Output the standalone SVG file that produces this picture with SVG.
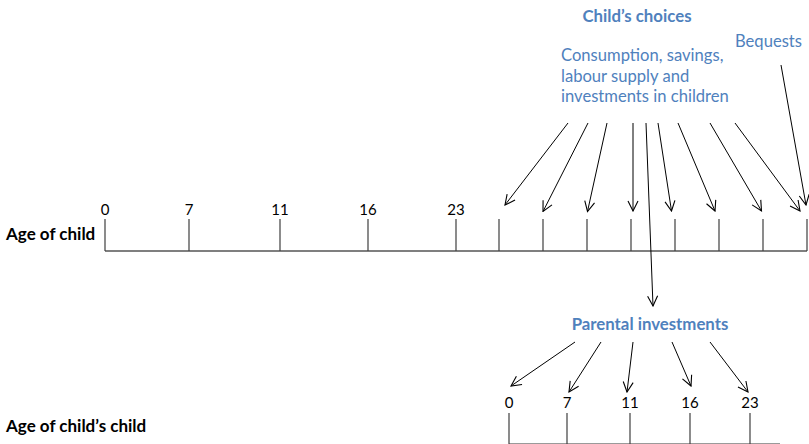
<svg xmlns="http://www.w3.org/2000/svg" width="809" height="444" viewBox="0 0 809 444">
  <style>
    .lbl { font-family: Lato, "Open Sans", sans-serif; font-size: 15px; fill: #000; text-anchor: middle; }
    .axis-title { font-family: Lato, "Open Sans", sans-serif; font-size: 17px; font-weight: bold; fill: #000; }
    .head { font-family: Lato, "Open Sans", sans-serif; font-size: 16.8px; font-weight: bold; fill: #4F81BD; text-anchor: middle; }
    .note { font-family: Lato, "Open Sans", sans-serif; font-size: 16.6px; fill: #4F81BD; }
    .axis { stroke: #000; stroke-width: 1.2; fill: none; }
    .tick { stroke: #404040; stroke-width: 1.2; fill: none; }
    .arrow { stroke: #000; stroke-width: 1; fill: none; marker-end: url(#open); }
  </style>
  <defs>
    <marker id="open" viewBox="0 0 12 12" refX="11" refY="6" markerWidth="12" markerHeight="12" markerUnits="userSpaceOnUse" orient="auto">
      <polyline points="1,1 11,6 1,11" fill="none" stroke="#000" stroke-width="1.1"/>
    </marker>
  </defs>

  <!-- Child's timeline -->
  <g id="timeline-child">
    <text class="axis-title" x="6" y="240">Age of child</text>
    <line class="axis" x1="105" y1="251" x2="807" y2="251"/>
    <path class="tick" d="M105 219V251 M189 219V251 M280 219V251 M368 219V251 M456 219V251 M499 219V251 M543 219V251 M587 219V251 M631 219V251 M675 219V251 M719 219V251 M763 219V251 M807 219V251"/>
    <text class="lbl" x="105" y="215">0</text>
    <text class="lbl" x="189" y="215">7</text>
    <text class="lbl" x="280" y="215">11</text>
    <text class="lbl" x="368" y="215">16</text>
    <text class="lbl" x="456" y="215">23</text>
  </g>

  <!-- Grandchild's timeline -->
  <g id="timeline-grandchild">
    <text class="axis-title" x="6" y="432">Age of child’s child</text>
    <line x1="509" y1="443.5" x2="780" y2="443.5" stroke="#9a9a9a" stroke-width="1.2"/>
    <path class="tick" d="M509 413V444 M567 413V444 M630 413V444 M690 413V444 M750 413V444"/>
    <text class="lbl" x="509" y="408">0</text>
    <text class="lbl" x="567" y="408">7</text>
    <text class="lbl" x="630" y="408">11</text>
    <text class="lbl" x="690" y="408">16</text>
    <text class="lbl" x="750" y="408">23</text>
  </g>

  <!-- Labels -->
  <g id="childs-choices">
    <text class="head" x="637" y="22">Child’s choices</text>
  </g>
  <g id="consumption">
    <text class="note" x="561" y="61">Consumption, savings,</text>
    <text class="note" x="561" y="81.5">labour supply and</text>
    <text class="note" x="561" y="102">investments in children</text>
  </g>
  <g id="bequests">
    <text class="note" x="735" y="47">Bequests</text>
  </g>
  <g id="parental-investments">
    <text class="head" x="650" y="330">Parental investments</text>
  </g>

  <!-- Connectors -->
  <g id="connectors">
    <line class="arrow" x1="568" y1="123" x2="505" y2="205"/>
    <line class="arrow" x1="588" y1="123" x2="543" y2="211.5"/>
    <line class="arrow" x1="607" y1="123" x2="587.5" y2="211.5"/>
    <line class="arrow" x1="633" y1="123" x2="633" y2="211"/>
    <line class="arrow" x1="658" y1="123" x2="671.5" y2="211"/>
    <line class="arrow" x1="678" y1="123" x2="715" y2="211"/>
    <line class="arrow" x1="710" y1="123" x2="761.5" y2="211"/>
    <line class="arrow" x1="735" y1="123" x2="800" y2="211"/>
    <line class="arrow" x1="781" y1="65" x2="806" y2="205"/>
    <line class="arrow" x1="646" y1="123" x2="653" y2="306"/>
    <line class="arrow" x1="575" y1="342" x2="511" y2="386"/>
    <line class="arrow" x1="601" y1="342" x2="569" y2="392"/>
    <line class="arrow" x1="633" y1="342" x2="627" y2="392"/>
    <line class="arrow" x1="672" y1="342" x2="691" y2="386"/>
    <line class="arrow" x1="710" y1="342" x2="748" y2="392"/>
  </g>
</svg>
